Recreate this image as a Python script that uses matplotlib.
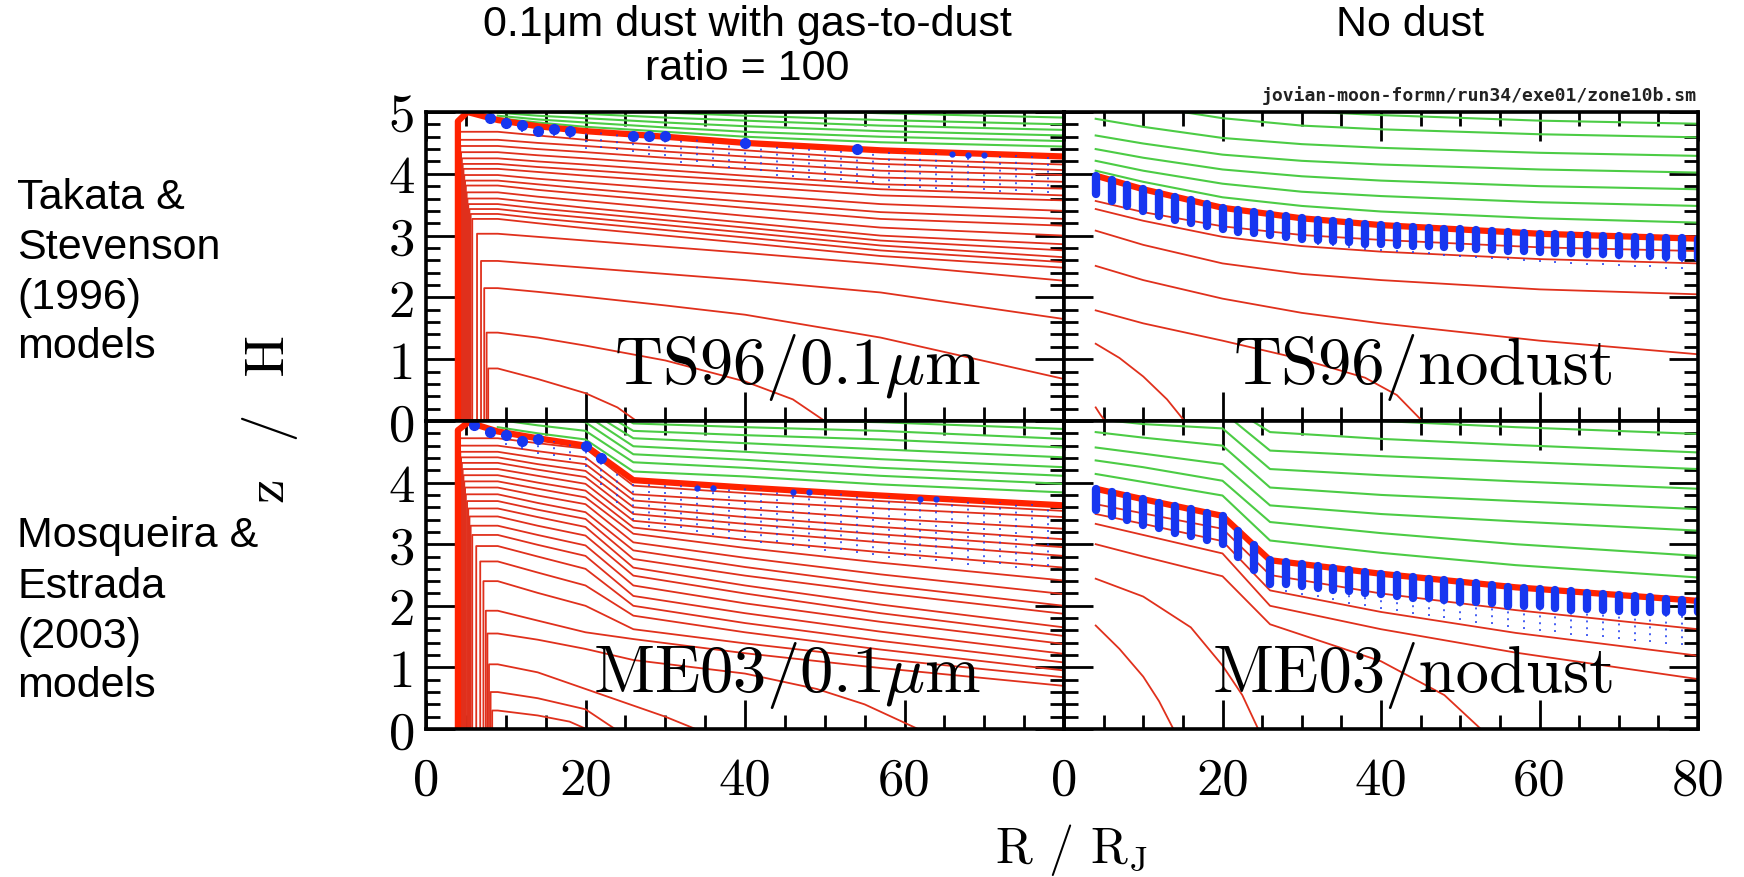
import numpy as np
import matplotlib as mpl
from matplotlib import pyplot as plt
from matplotlib.ticker import MultipleLocator, FuncFormatter

# SM-like look: Computer Modern tick labels, thick frame
mpl.rc('font', family='cmr10', size=38)
mpl.rc('mathtext', fontset='cm')
mpl.rc('axes', unicode_minus=False, linewidth=2.6)

RED = '#e0301c'
EDGE = '#ff2200'
GREEN = '#4ccc45'
BLUE = '#1736f0'

# ---------------- TS96 / 0.1um (top left) ----------------
ts_r = [9, 14, 20, 30, 40, 57, 80]
tl_edge_r = [4.0, 4.0, 5.2, 9, 14, 20, 30, 40, 57, 80]
tl_edge_z = [0.0, 4.85, 5.0, 4.87, 4.77, 4.69, 4.60, 4.50, 4.38, 4.28]
tl_green = [
    [5.20, 5.17, 5.14, 5.10, 5.05, 4.98, 4.91],
    [5.12, 5.08, 5.04, 4.99, 4.94, 4.87, 4.80],
    [5.05, 5.01, 4.97, 4.91, 4.86, 4.78, 4.71],
    [4.99, 4.94, 4.90, 4.83, 4.77, 4.69, 4.62],
    [4.94, 4.88, 4.83, 4.75, 4.68, 4.60, 4.53],
    [4.90, 4.83, 4.76, 4.68, 4.60, 4.51, 4.44],
]
tl_red = [
    [4.68, 4.62, 4.55, 4.46, 4.38, 4.24, 4.15],
    [4.55, 4.50, 4.45, 4.36, 4.28, 4.16, 4.06],
    [4.45, 4.40, 4.35, 4.26, 4.18, 4.05, 3.98],
    [4.35, 4.30, 4.25, 4.16, 4.08, 3.94, 3.87],
    [4.25, 4.20, 4.15, 4.06, 3.97, 3.83, 3.76],
    [4.16, 4.11, 4.06, 3.97, 3.89, 3.75, 3.65],
    [4.08, 4.03, 3.97, 3.88, 3.80, 3.65, 3.57],
    [3.98, 3.92, 3.86, 3.76, 3.67, 3.51, 3.40],
    [3.89, 3.83, 3.76, 3.65, 3.55, 3.38, 3.27],
    [3.81, 3.74, 3.67, 3.56, 3.45, 3.27, 3.16],
    [3.70, 3.63, 3.56, 3.44, 3.32, 3.13, 3.00],
    [3.60, 3.53, 3.45, 3.33, 3.21, 3.00, 2.86],
    [3.51, 3.44, 3.37, 3.25, 3.13, 2.92, 2.76],
    [3.43, 3.36, 3.29, 3.17, 3.05, 2.84, 2.65],
    [3.35, 3.28, 3.21, 3.09, 2.97, 2.76, 2.57],
    [3.27, 3.20, 3.12, 3.00, 2.88, 2.67, 2.48],
    [3.03, 2.98, 2.92, 2.82, 2.72, 2.54, 2.27],
    [2.59, 2.54, 2.48, 2.38, 2.28, 2.08, 1.65],
    [2.15, 2.09, 2.01, 1.87, 1.72, 1.35, 0.68],
]
tl_red_rv = [4.1, 4.2, 4.3, 4.4, 4.5, 4.6, 4.7, 4.8, 4.9, 5.0,
             5.1, 5.2, 5.3, 5.45, 5.6, 5.8, 6.4, 6.9, 7.3]
tl_low_r = [[7.6, 7.6, 9, 14, 20, 30, 40, 46, 50],
            [7.8, 7.8, 9, 14, 20, 24, 26.4]]
tl_low_z = [[0, 1.43, 1.43, 1.35, 1.22, 0.98, 0.64, 0.35, 0.0],
            [0, 0.85, 0.85, 0.68, 0.45, 0.22, 0.0]]
tl_cols = [10, 12, 14, 16, 18, 20, 22, 24, 26, 28, 30, 32, 34, 36, 38, 40, 42, 44,
           46, 48, 50, 52, 54, 56, 58, 60, 62, 64, 66, 68, 70, 72, 74, 76, 78, 80]
tl_depth = [0.13, 0.14, 0.18, 0.13, 0.14, 0.29, 0.25, 0.27, 0.28, 0.32, 0.32, 0.40,
            0.37, 0.41, 0.42, 0.40, 0.44, 0.50, 0.51, 0.51, 0.53, 0.51, 0.53, 0.54,
            0.60, 0.57, 0.58, 0.59, 0.62, 0.55, 0.58, 0.61, 0.58, 0.59, 0.60, 0.58]
tl_big_r = [8, 10, 12, 14, 16, 18, 26, 28, 30, 40, 54]
tl_big_z = [4.90, 4.82, 4.79, 4.69, 4.72, 4.69, 4.61, 4.61, 4.61, 4.50, 4.40]
tl_small_r = [66, 68, 70]
tl_small_z = [4.32, 4.31, 4.31]

# ---------------- TS96 / nodust (top right) ----------------
nd_r = [4, 10, 20, 30, 40, 60, 80]
tr_edge = [3.97, 3.75, 3.45, 3.28, 3.17, 3.03, 2.95]
tr_green = [
    [5.45, 5.31, 5.12, 5.01, 4.95, 4.86, 4.81],
    [5.25, 5.10, 4.90, 4.78, 4.72, 4.64, 4.59],
    [4.89, 4.76, 4.58, 4.48, 4.42, 4.34, 4.29],
    [4.62, 4.49, 4.31, 4.21, 4.15, 4.07, 4.02],
    [4.40, 4.26, 4.07, 3.96, 3.89, 3.80, 3.75],
    [4.21, 4.05, 3.84, 3.71, 3.64, 3.54, 3.48],
    [4.05, 3.87, 3.62, 3.48, 3.39, 3.28, 3.21],
]
tr_red = [
    [3.56, 3.38, 3.15, 3.01, 2.93, 2.81, 2.75],
    [3.43, 3.24, 2.98, 2.83, 2.74, 2.62, 2.55],
    [3.08, 2.85, 2.55, 2.38, 2.28, 2.13, 2.05],
    [2.51, 2.28, 1.98, 1.75, 1.58, 1.30, 1.08],
]
tr_low_r = [[4, 10, 20, 30, 38, 42, 45.2], [4, 7, 10, 13, 15.2], [4, 4.6, 5.2]]
tr_low_z = [[1.79, 1.58, 1.30, 1.00, 0.70, 0.42, 0], [1.25, 1.02, 0.72, 0.35, 0],
            [0.22, 0.10, 0]]
nd_cols = [4, 6, 8, 10, 12, 14, 16, 18, 20, 22, 24, 26, 28, 30, 32, 34, 36, 38, 40,
           42, 44, 46, 48, 50, 52, 54, 56, 58, 60, 62, 64, 66, 68, 70, 72, 74, 76, 78, 80]
tr_bar = [0.30, 0.33, 0.35, 0.36, 0.38, 0.38, 0.37, 0.36, 0.35, 0.35, 0.34, 0.34, 0.33,
          0.33, 0.33, 0.32, 0.32, 0.32, 0.31, 0.31, 0.31, 0.30, 0.30, 0.30, 0.30, 0.30,
          0.30, 0.30, 0.30, 0.30, 0.30, 0.30, 0.30, 0.30, 0.30, 0.30, 0.31, 0.31, 0.32]
tr_dot = [0.32, 0.35, 0.37, 0.38, 0.40, 0.40, 0.40, 0.40, 0.40, 0.40, 0.40, 0.40, 0.40,
          0.40, 0.41, 0.41, 0.42, 0.42, 0.42, 0.42, 0.43, 0.43, 0.44, 0.44, 0.45, 0.45,
          0.45, 0.46, 0.46, 0.47, 0.47, 0.48, 0.48, 0.48, 0.49, 0.49, 0.50, 0.50, 0.50]

# ---------------- ME03 / 0.1um (bottom left) ----------------
me_r = [9, 14, 20, 26, 40, 57, 80]
bl_edge_r = [4.0, 4.0, 5.3, 9, 14, 20, 26, 40, 57, 80]
bl_edge_z = [0.0, 4.85, 4.98, 4.83, 4.72, 4.60, 4.04, 3.92, 3.79, 3.63]
bl_green = [
    [5.60, 5.55, 5.50, 5.08, 5.03, 4.98, 4.87],
    [5.55, 5.50, 5.40, 4.96, 4.90, 4.84, 4.71],
    [5.50, 5.40, 5.30, 4.84, 4.77, 4.70, 4.57],
    [5.40, 5.30, 5.20, 4.72, 4.64, 4.54, 4.41],
    [5.30, 5.20, 5.10, 4.59, 4.50, 4.38, 4.25],
    [5.15, 5.08, 4.98, 4.46, 4.37, 4.24, 4.11],
    [5.02, 4.93, 4.84, 4.33, 4.24, 4.11, 3.98],
    [4.90, 4.80, 4.70, 4.18, 4.10, 3.97, 3.84],
]
bl_red = [
    [4.72, 4.64, 4.55, 3.95, 3.83, 3.70, 3.54],
    [4.60, 4.51, 4.41, 3.81, 3.70, 3.58, 3.44],
    [4.50, 4.40, 4.30, 3.71, 3.57, 3.42, 3.25],
    [4.41, 4.30, 4.19, 3.60, 3.44, 3.28, 3.08],
    [4.32, 4.21, 4.09, 3.49, 3.33, 3.16, 2.95],
    [4.22, 4.11, 3.98, 3.38, 3.21, 3.03, 2.81],
    [4.12, 4.00, 3.87, 3.27, 3.07, 2.87, 2.62],
    [4.02, 3.90, 3.76, 3.17, 2.94, 2.70, 2.41],
    [3.92, 3.79, 3.65, 3.03, 2.78, 2.51, 2.19],
    [3.81, 3.67, 3.52, 2.90, 2.63, 2.34, 2.00],
    [3.70, 3.56, 3.41, 2.76, 2.49, 2.21, 1.87],
    [3.58, 3.44, 3.28, 2.62, 2.33, 2.02, 1.65],
    [3.45, 3.30, 3.14, 2.49, 2.20, 1.88, 1.51],
    [3.30, 3.15, 2.98, 2.33, 2.04, 1.74, 1.38],
    [3.15, 2.99, 2.81, 2.16, 1.88, 1.58, 1.22],
    [2.97, 2.80, 2.60, 2.00, 1.72, 1.43, 1.08],
    [2.72, 2.54, 2.33, 1.84, 1.57, 1.29, 0.95],
    [2.40, 2.21, 2.00, 1.62, 1.39, 1.14, 0.84],
    [1.92, 1.76, 1.57, 1.46, 1.23, 0.99, 0.70],
]
bl_red_rv = [4.1, 4.2, 4.3, 4.4, 4.5, 4.6, 4.7, 4.8, 4.9, 5.0,
             5.15, 5.3, 5.45, 5.6, 5.8, 6.3, 6.8, 7.2, 7.5]
bl_low_r = [[7.7, 7.7, 9, 14, 20, 26, 40, 49, 55, 61.7],
            [7.9, 7.9, 9, 14, 20, 26, 30, 33.8],
            [8.1, 8.1, 9, 14, 20, 23.7],
            [8.3, 8.3, 9, 14, 18, 20.1]]
bl_low_z = [[0, 1.55, 1.55, 1.45, 1.30, 1.12, 0.90, 0.65, 0.40, 0],
            [0, 1.05, 1.05, 0.92, 0.65, 0.38, 0.20, 0],
            [0, 0.60, 0.60, 0.50, 0.32, 0],
            [0, 0.30, 0.30, 0.22, 0.12, 0]]
bl_cols = [8, 10, 12, 14, 16, 18, 20, 22, 24, 26, 28, 30, 32, 34, 36, 38, 40, 42, 44,
           46, 48, 50, 52, 54, 56, 58, 60, 62, 64, 66, 68, 70, 72, 74, 76, 78, 80]
bl_depth = [0.15, 0.20, 0.22, 0.25, 0.25, 0.28, 0.35, 0.45, 0.55, 0.65, 0.75, 0.75,
            0.72, 0.78, 0.80, 0.85, 0.82, 0.88, 0.86, 0.90, 0.92, 0.95, 0.93, 0.95,
            0.98, 1.00, 0.96, 1.00, 1.02, 1.00, 1.05, 1.02, 1.00, 1.05, 1.02, 1.00, 1.02]
bl_big_r = [6, 8, 10, 12, 14, 20, 22]
bl_big_z = [4.93, 4.82, 4.77, 4.67, 4.71, 4.60, 4.40]
bl_small_r = [34, 36, 46, 48, 62, 64]
bl_small_z = [3.91, 3.91, 3.84, 3.84, 3.73, 3.73]

# ---------------- ME03 / nodust (bottom right) ----------------
nm_r = [4, 10, 20, 26, 40, 57, 80]
br_edge = [3.90, 3.73, 3.46, 2.74, 2.52, 2.30, 2.08]
br_green = [
    [5.80, 5.70, 5.55, 5.10, 5.00, 4.90, 4.79],
    [5.55, 5.45, 5.30, 4.82, 4.71, 4.61, 4.49],
    [5.30, 5.20, 5.15, 4.52, 4.43, 4.34, 4.22],
    [5.03, 4.95, 4.88, 4.22, 4.12, 4.02, 3.90],
    [4.82, 4.73, 4.60, 3.92, 3.80, 3.70, 3.57],
    [4.57, 4.47, 4.30, 3.63, 3.49, 3.37, 3.22],
    [4.36, 4.25, 4.03, 3.36, 3.18, 3.00, 2.81],
    [4.14, 4.01, 3.79, 3.06, 2.86, 2.66, 2.46],
]
br_red = [
    [3.65, 3.50, 3.25, 2.50, 2.20, 1.93, 1.62],
    [3.49, 3.33, 3.05, 2.25, 1.90, 1.56, 1.19],
    [3.33, 3.15, 2.85, 2.00, 1.62, 1.24, 0.81],
]
br_low_r = [[4, 10, 20, 26, 40, 48, 52.6], [4, 10, 16, 20, 22.5, 24.5],
            [4, 7, 10, 12, 13.8]]
br_low_z = [[3.00, 2.80, 2.48, 1.70, 1.10, 0.55, 0], [2.44, 2.15, 1.65, 1.03, 0.55, 0],
            [1.68, 1.30, 0.85, 0.45, 0]]
br_bar = [0.35, 0.38, 0.40, 0.42, 0.42, 0.44, 0.44, 0.45, 0.45, 0.42, 0.40, 0.38, 0.36,
          0.36, 0.35, 0.36, 0.34, 0.35, 0.33, 0.33, 0.34, 0.32, 0.32, 0.33, 0.30, 0.30,
          0.32, 0.30, 0.28, 0.28, 0.30, 0.27, 0.26, 0.26, 0.25, 0.24, 0.22, 0.20, 0.18]
br_dot = [0.37, 0.40, 0.42, 0.44, 0.44, 0.46, 0.46, 0.47, 0.47, 0.48, 0.46, 0.45, 0.48,
          0.50, 0.50, 0.52, 0.55, 0.55, 0.58, 0.58, 0.60, 0.60, 0.62, 0.62, 0.64, 0.64,
          0.66, 0.66, 0.68, 0.68, 0.70, 0.70, 0.70, 0.72, 0.72, 0.72, 0.74, 0.74, 0.72]


def draw_contours(ax, grid, edge_r, edge_z, greens, reds, rv=None, low_r=(), low_z=()):
    for z in greens:
        ax.plot(grid, z, color=GREEN, lw=1.5)
    for i, z in enumerate(reds):
        r, zz = list(grid), list(z)
        if rv is not None:
            # inner wall: contour climbs vertically before turning outward
            r = [rv[i], rv[i]] + r
            zz = [0, z[0]] + zz
        ax.plot(r, zz, color=RED, lw=1.3)
    for r, z in zip(low_r, low_z):
        ax.plot(r, z, color=RED, lw=1.3)
    ax.plot(edge_r, edge_z, color=EDGE, lw=4.5, solid_capstyle='butt')


def draw_dust(ax, cols, edge_r, edge_z, dot_depth, bar_depth=None):
    tops = np.interp(cols, edge_r, edge_z)
    ax.vlines(cols, tops - np.array(dot_depth), tops, colors=BLUE, lw=1.4,
              linestyles=(0, (1, 2.5)), alpha=0.8)
    if bar_depth is not None:
        bars = ax.vlines(cols, tops - np.array(bar_depth), tops, colors=BLUE, lw=6)
        bars.set_capstyle('round')


fig = plt.figure(figsize=(17.44, 8.78), dpi=100)
xl, xm, xr = 426 / 1744, 1064 / 1744, 1698 / 1744
yt, ym, yb = 1 - 113 / 878, 1 - 422 / 878, 1 - 730 / 878
ax_tl = fig.add_axes([xl, ym, xm - xl, yt - ym])
ax_tr = fig.add_axes([xm, ym, xr - xm, yt - ym])
ax_bl = fig.add_axes([xl, yb, xm - xl, ym - yb])
ax_br = fig.add_axes([xm, yb, xr - xm, ym - yb])

draw_contours(ax_tl, ts_r, tl_edge_r, tl_edge_z, tl_green, tl_red, tl_red_rv,
              tl_low_r, tl_low_z)
draw_dust(ax_tl, tl_cols, tl_edge_r[2:], tl_edge_z[2:], tl_depth)
ax_tl.plot(tl_big_r, tl_big_z, 'o', ms=7, color=BLUE)
ax_tl.plot(tl_small_r, tl_small_z, 'o', ms=3.5, color=BLUE)

draw_contours(ax_tr, nd_r, nd_r, tr_edge, tr_green, tr_red, None, tr_low_r, tr_low_z)
draw_dust(ax_tr, nd_cols, nd_r, tr_edge, tr_dot, tr_bar)

draw_contours(ax_bl, me_r, bl_edge_r, bl_edge_z, bl_green, bl_red, bl_red_rv,
              bl_low_r, bl_low_z)
draw_dust(ax_bl, bl_cols, bl_edge_r[2:], bl_edge_z[2:], bl_depth)
ax_bl.plot(bl_big_r, bl_big_z, 'o', ms=7, color=BLUE)
ax_bl.plot(bl_small_r, bl_small_z, 'o', ms=3.5, color=BLUE)

draw_contours(ax_br, nm_r, nm_r, br_edge, br_green, br_red, None, br_low_r, br_low_z)
draw_dust(ax_br, nd_cols, nm_r, br_edge, br_dot, br_bar)

panel_names = [(ax_tl, r'TS96/0.1$\mu$m'), (ax_tr, 'TS96/nodust'),
               (ax_bl, r'ME03/0.1$\mu$m'), (ax_br, 'ME03/nodust')]
for ax, name in panel_names:
    ax.set_xlim(0, 80)
    ax.set_ylim(0, 5)
    ax.xaxis.set_major_locator(MultipleLocator(20))
    ax.xaxis.set_minor_locator(MultipleLocator(5))
    ax.yaxis.set_major_locator(MultipleLocator(1))
    ax.yaxis.set_minor_locator(MultipleLocator(0.2))
    ax.tick_params(which='both', direction='in', top=True, right=True, width=2.0,
                   labelsize=38)
    ax.tick_params(which='major', length=21)
    ax.tick_params(which='minor', length=10)
    ax.tick_params(axis='y', pad=8)
    ax.tick_params(axis='x', pad=20)
    ax.text(69.6, 0.62, name, ha='right', va='baseline', fontsize=48)

ax_tl.tick_params(labelbottom=False)
ax_tr.tick_params(labelbottom=False, labelleft=False)
ax_br.tick_params(labelleft=False)
ax_bl.yaxis.set_major_formatter(FuncFormatter(lambda v, p: '' if v > 4.5 else '%d' % v))
ax_br.yaxis.set_major_formatter(FuncFormatter(lambda v, p: '' if v > 4.5 else '%d' % v))
ax_bl.xaxis.set_major_formatter(FuncFormatter(lambda v, p: '' if v > 70 else '%d' % v))

fig.text(270 / 1744, 1 - 419 / 878, 'z  /  H', rotation=90, ha='center', va='center',
         fontsize=40)
fig.text(1071 / 1744, 1 - 850 / 878, r'R / R$_{\rm J}$', ha='center', va='center',
         fontsize=36)

sans = 'Liberation Sans'
fig.text(747 / 1744, 1 - 25 / 878, '0.1μm dust with gas-to-dust', ha='center',
         va='center', fontsize=31, family=sans)
fig.text(747 / 1744, 1 - 69 / 878, 'ratio = 100', ha='center', va='center',
         fontsize=31, family=sans)
fig.text(1410 / 1744, 1 - 25 / 878, 'No dust', ha='center', va='center', fontsize=31,
         family=sans)
fig.text(1697 / 1744, 1 - 96 / 878, 'jovian-moon-formn/run34/exe01/zone10b.sm',
         ha='right', va='center', fontsize=13, family='DejaVu Sans Mono',
         weight='bold', color='#222222')

left_rows = ['Takata &', 'Stevenson', '(1996)', 'models',
             'Mosqueira &', 'Estrada', '(2003)', 'models']
left_y = [198, 248, 298, 347, 536, 587, 637, 686]
for label, y in zip(left_rows, left_y):
    fig.text(17 / 1744, 1 - y / 878, label, ha='left', va='center', fontsize=31,
             family=sans)

fig.savefig('out.png', dpi=100)
